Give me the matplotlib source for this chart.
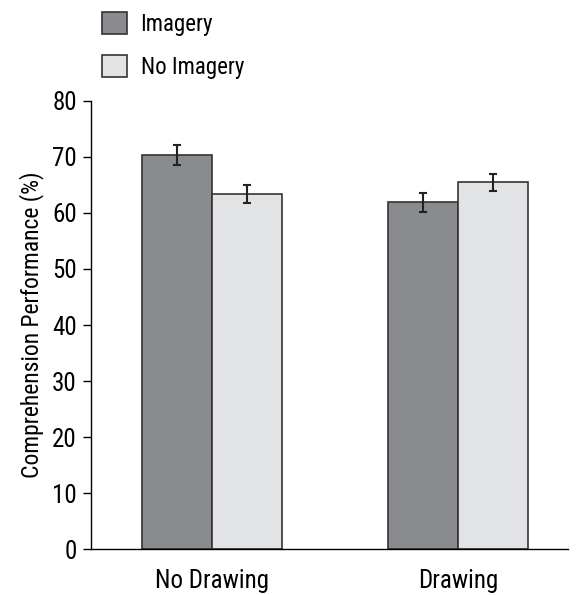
import matplotlib
matplotlib.use("Agg")
import matplotlib.pyplot as plt
from matplotlib.patches import Patch
from matplotlib import font_manager
import numpy as np

names = {f.name for f in font_manager.fontManager.ttflist}
fam = "Liberation Sans"
for cand in ["Liberation Sans Narrow", "Roboto Condensed", "Arial Narrow"]:
    if cand in names:
        fam = cand
        break
plt.rcParams['font.family'] = [fam, 'DejaVu Sans']

categories = ["No Drawing", "Drawing"]
series_names = ["Imagery", "No Imagery"]
imagery = [70.3, 61.9]
no_imagery = [63.4, 65.4]
imagery_err = [1.7, 1.7]
no_imagery_err = [1.6, 1.6]
yticks = [0, 10, 20, 30, 40, 50, 60, 70, 80]

c_dark = "#8a8b8e"
c_light = "#e2e3e5"
edge = "#333333"

fig = plt.figure(figsize=(5.78, 5.95), dpi=100)
ax = fig.add_axes([0.157, 0.0765, 0.826, 0.7545])

x = np.arange(len(categories))
w = 0.285
ekw = dict(ecolor="#222222", elinewidth=1.5, capsize=3, capthick=1.5)
ax.bar(x - w/2, imagery, w, color=c_dark, edgecolor=edge, linewidth=1.2,
       yerr=imagery_err, error_kw=ekw)
ax.bar(x + w/2, no_imagery, w, color=c_light, edgecolor=edge, linewidth=1.2,
       yerr=no_imagery_err, error_kw=ekw)

ax.set_xlim(-0.493, 1.447)
ax.set_ylim(0, 80)
ax.set_yticks(yticks)
ax.set_xticks(x)
ax.set_xticklabels(categories)
ax.tick_params(axis='x', length=0, pad=14, labelsize=18)
ax.tick_params(axis='y', length=6, width=1, direction='out', labelsize=18, pad=4)
for s in ['top', 'right']:
    ax.spines[s].set_visible(False)
for s in ['left', 'bottom']:
    ax.spines[s].set_linewidth(1)
ax.set_ylabel("Comprehension Performance (%)", fontsize=17, labelpad=6)

handles = [Patch(facecolor=c_dark, edgecolor=edge, linewidth=1.2),
           Patch(facecolor=c_light, edgecolor=edge, linewidth=1.2)]
fig.legend(handles, series_names, loc='upper left', bbox_to_anchor=(0.16, 0.995),
           frameon=False, fontsize=16.5, handlelength=1.1, handleheight=1.1,
           labelspacing=0.85, handletextpad=0.6, borderaxespad=0.0, borderpad=0.4)

fig.savefig("out.png", dpi=100)
